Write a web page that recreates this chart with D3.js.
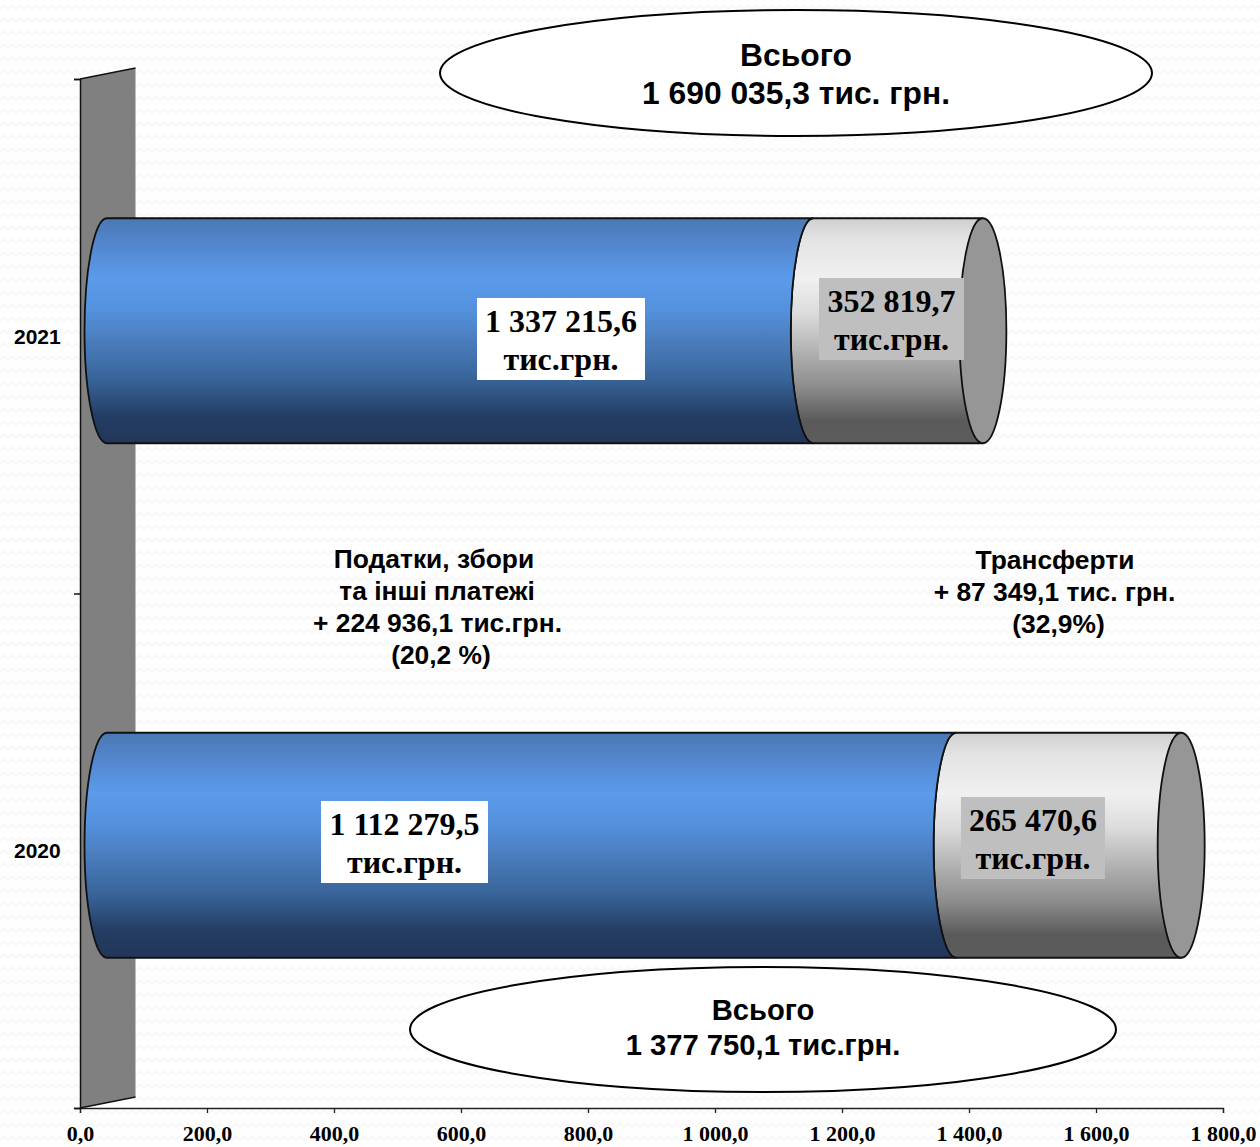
<!DOCTYPE html>
<html>
<head>
<meta charset="utf-8">
<script src="https://cdn.jsdelivr.net/npm/d3@7"></script>
<style>
html, body { margin: 0; padding: 0; background: #fff; }
svg { display: block; }
</style>
</head>
<body>
<svg id="chart" width="1260" height="1147"></svg>
<script>
// values as the bars are actually drawn (the captions on the picture sit on the other row)
const categories = ["2021", "2020"];
const taxes = [1112.2795, 1337.2156];
const transfers = [265.4706, 352.8197];
const xTicks = [0, 200, 400, 600, 800, 1000, 1200, 1400, 1600, 1800];

const barCaptions = [
  ["1 337 215,6", "тис.грн."],
  ["352 819,7", "тис.грн."],
  ["1 112 279,5", "тис.грн."],
  ["265 470,6", "тис.грн."]
];
const totalTop = ["Всього", "1 690 035,3 тис. грн."];
const totalBottom = ["Всього", "1 377 750,1 тис.грн."];
const noteTaxes = ["Податки, збори", "та інші платежі", "+ 224 936,1 тис.грн.", "(20,2 %)"];
const noteTransfers = ["Трансферти", "+ 87 349,1 тис. грн.", "(32,9%)"];

const svg = d3.select("#chart");
const defs = svg.append("defs");

const sans = "'Liberation Sans', Arial, sans-serif";
const serif = "'Liberation Serif', 'Times New Roman', serif";

// faint wavy paper background
const pat = defs.append("pattern")
  .attr("id", "paper").attr("patternUnits", "userSpaceOnUse")
  .attr("width", 16).attr("height", 26);
pat.append("rect").attr("width", 16).attr("height", 26).attr("fill", "#fefefe");
pat.append("path").attr("d", "M0 9 L4 5 L8 9 L12 5 L16 9")
  .attr("fill", "none").attr("stroke", "#f7f7f7").attr("stroke-width", 1.5);
pat.append("path").attr("d", "M-4 18 L0 22 L4 18 L8 22 L12 18 L16 22 L20 18")
  .attr("fill", "none").attr("stroke", "#f7f7f7").attr("stroke-width", 1.5);
svg.append("rect").attr("width", 1260).attr("height", 1147).attr("fill", "url(#paper)");

function gradient(id, stops) {
  const g = defs.append("linearGradient").attr("id", id)
    .attr("x1", 0).attr("y1", 0).attr("x2", 0).attr("y2", 1);
  stops.forEach(s => g.append("stop").attr("offset", s[0]).attr("stop-color", s[1]));
}
gradient("blue", [[0, "#4a78b4"], [0.13, "#5488d0"], [0.27, "#5b9bea"], [0.4, "#5592de"],
  [0.55, "#4a7cbc"], [0.72, "#386398"], [0.88, "#243d63"], [1, "#22365a"]]);
gradient("grey", [[0, "#cfcfcf"], [0.1, "#e4e4e4"], [0.27, "#f0f0f0"], [0.42, "#dcdcdc"],
  [0.6, "#b0b0b0"], [0.75, "#8c8c8c"], [0.9, "#5a5a5a"], [1, "#5c5c5c"]]);

const x = d3.scaleLinear().domain([0, 1800]).range([80, 1223]);
const y = d3.scaleBand().domain(categories).range([79, 1108]).paddingInner(0.5627).paddingOuter(0.28135);

const depth = 55.5, slant = 11;   // back wall of the 3d chart
const offX = 28, offY = -5.5;     // bars stand half way into the depth
const rx = 22.5, capRx = 23.5;

// back wall
const wall = d3.path();
wall.moveTo(x(0), y.range()[0]);
wall.lineTo(x(0) + depth, y.range()[0] - slant);
wall.lineTo(x(0) + depth, y.range()[1] - slant);
wall.lineTo(x(0), y.range()[1]);
wall.closePath();
svg.append("path").attr("d", wall.toString()).attr("fill", "#808080");
svg.append("path")
  .attr("d", `M${x(0)} ${y.range()[1]} L${x(0) + depth} ${y.range()[1] - slant}`)
  .attr("stroke", "#111").attr("stroke-width", 1.5);
svg.append("path")
  .attr("d", `M${x(0)} ${y.range()[0]} L${x(0) + depth} ${y.range()[0] - slant}`)
  .attr("stroke", "#111").attr("stroke-width", 1.5);

// one cylinder segment, both ends bulging left
function segment(x0, x1, top, h) {
  const ry = h / 2;
  return `M${x0} ${top} A${rx} ${ry} 0 0 0 ${x0} ${top + h} L${x1} ${top + h} A${rx} ${ry} 0 0 1 ${x1} ${top} Z`;
}

categories.forEach((c, i) => {
  const top = y(c) + offY, h = y.bandwidth();
  const x0 = x(0) + offX - 1;
  const x1 = x(taxes[i]) + offX - 1;
  const x2 = x(taxes[i] + transfers[i]) + offX;
  const g = svg.append("g");
  g.append("path").attr("d", segment(x1, x2, top, h))
    .attr("fill", "url(#grey)").attr("stroke", "#111").attr("stroke-width", 1.8);
  g.append("path").attr("d", segment(x0, x1, top, h))
    .attr("fill", "url(#blue)").attr("stroke", "#111").attr("stroke-width", 1.8);
  g.append("ellipse").attr("cx", x2).attr("cy", top + h / 2)
    .attr("rx", capRx).attr("ry", h / 2)
    .attr("fill", "#969696").attr("stroke", "#111").attr("stroke-width", 1.8);
});

// axes
const xAxis = d3.axisBottom(x)
  .tickValues(xTicks)
  .tickSize(5)
  .tickFormat(d => {
    const s = d3.format(".1f")(d).replace(".", ",");
    return d >= 1000 ? s[0] + " " + s.slice(1) : s;
  });
const gx = svg.append("g").attr("transform", `translate(0,${y.range()[1]})`).call(xAxis);
gx.selectAll("path, line").attr("stroke", "#222").attr("stroke-width", 1.3);
gx.selectAll("text")
  .attr("y", 17).attr("dy", "0.71em")
  .attr("font-family", serif).attr("font-weight", "bold").attr("font-size", 22).attr("fill", "#000");

const yAxis = d3.axisLeft(d3.scaleLinear().domain([0, 2]).range(y.range()))
  .tickValues([0, 1, 2]).tickSize(6).tickFormat("");
const gy = svg.append("g").attr("transform", `translate(${x(0)},0)`).call(yAxis);
gy.selectAll("path, line").attr("stroke", "#111").attr("stroke-width", 1.5);

svg.selectAll(".cat").data(categories).enter().append("text")
  .attr("class", "cat")
  .attr("x", 14)
  .attr("y", d => y(d) + y.bandwidth() / 2 + 7.5)
  .attr("font-family", sans).attr("font-weight", "bold").attr("font-size", 21)
  .text(d => d);

// captions in their boxes
const boxes = [
  { x: 477, y: 298, w: 168, h: 82, fill: "#ffffff" },
  { x: 819, y: 278, w: 145, h: 82, fill: "#bfbfbf" },
  { x: 321, y: 801, w: 167, h: 82, fill: "#ffffff" },
  { x: 961, y: 797, w: 144, h: 82, fill: "#bfbfbf" }
];
boxes.forEach((b, i) => {
  svg.append("rect").attr("x", b.x).attr("y", b.y).attr("width", b.w).attr("height", b.h).attr("fill", b.fill);
  barCaptions[i].forEach((line, k) => {
    svg.append("text")
      .attr("x", b.x + b.w / 2).attr("y", b.y + 34 + k * 38)
      .attr("text-anchor", "middle")
      .attr("font-family", serif).attr("font-weight", "bold").attr("font-size", 32)
      .text(line);
  });
});

// totals in ovals
function oval(cx, cy, erx, ery, lines, size, base, step) {
  svg.append("ellipse").attr("cx", cx).attr("cy", cy).attr("rx", erx).attr("ry", ery)
    .attr("fill", "#fff").attr("stroke", "#000").attr("stroke-width", 2);
  lines.forEach((line, k) => {
    svg.append("text").attr("x", cx).attr("y", base + k * step)
      .attr("text-anchor", "middle")
      .attr("font-family", sans).attr("font-weight", "bold").attr("font-size", size)
      .text(line);
  });
}
oval(796, 73, 356, 63, totalTop, 31.8, 66, 38);
oval(763, 1029.5, 353, 62.5, totalBottom, 29.2, 1020, 35);

// growth notes between the bars
function note(lines, centres, base) {
  lines.forEach((line, k) => {
    svg.append("text").attr("x", centres[k]).attr("y", base + k * 32)
      .attr("text-anchor", "middle")
      .attr("font-family", sans).attr("font-weight", "bold").attr("font-size", 26.4)
      .text(line);
  });
}
note(noteTaxes, [434, 437, 437.5, 441], 568);
note(noteTransfers, [1055, 1054.5, 1058.5], 569);
</script>
</body>
</html>
